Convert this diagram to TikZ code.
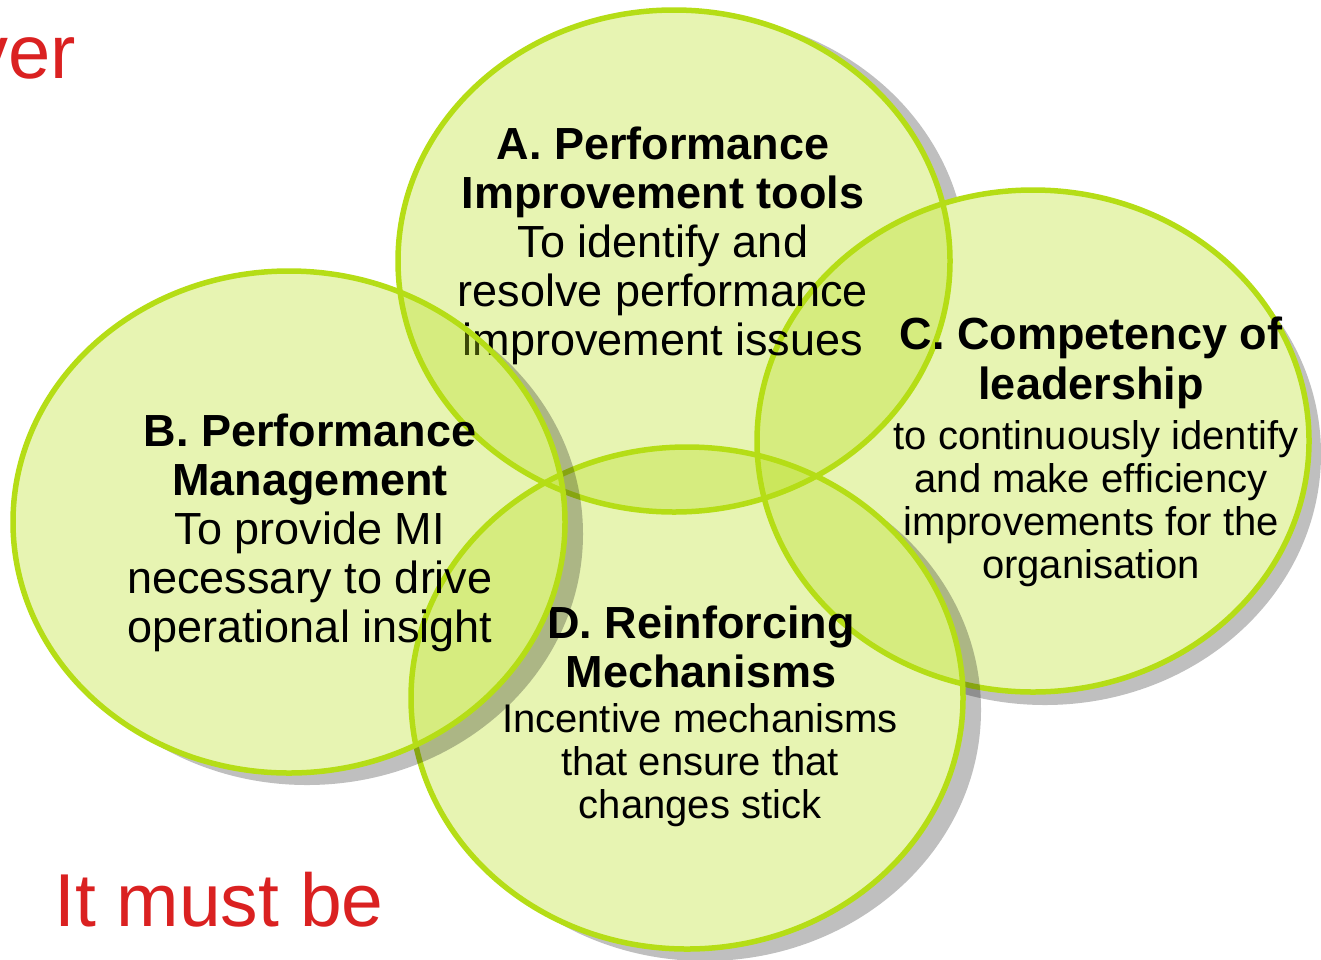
\documentclass[tikz,border=0pt]{standalone}
\usepackage{fontspec}
\setmainfont{Liberation Sans}
\definecolor{lime}{RGB}{181,221,22}
\definecolor{slogan}{RGB}{218,33,33}
% radii shared by all four ellipses
\newcommand\erx{276}
\newcommand\ery{251}
% clip away the inside of an ellipse centred at (#1,#2)
\newcommand\cutellipse[2]{%
  \clip (-80,-80) -- (1420,-80) -- (1420,1060) -- (-80,1060) -- cycle
        ({#1+\erx},#2) arc[start angle=0,end angle=-360,x radius=\erx,y radius=\ery] -- cycle;}
\tikzset{
  shade/.style={fill=black, fill opacity=0.25},
  bubble/.style={fill=lime, fill opacity=0.33},
  rim/.style={draw=lime, line width=5.5pt},
  ttl/.style={anchor=base, inner sep=0pt, font=\fontsize{45}{49}\selectfont\bfseries},
  txt/.style={anchor=base, inner sep=0pt, font=\fontsize{45}{49}\selectfont},
  small/.style={anchor=base, inner sep=0pt, font=\fontsize{40}{43}\selectfont},
  red/.style={anchor=base west, inner sep=0pt, text=slogan, font=\fontsize{76}{80}\selectfont}
}
\begin{document}
\begin{tikzpicture}[x=1pt,y=-1pt]
\useasboundingbox (0,0) rectangle (1321,959);

% red slide text
\node[red] (head) at (-30,78) {ver};
\node[red, anchor=base] (headtail) at (615,-15.5) {g};
\node[red, font=\fontsize{75}{80}\selectfont] (foot) at (54,926) {It must be};

% ---------- A ----------
\begin{scope}
  \cutellipse{674}{261}\cutellipse{1033}{441}\cutellipse{687}{698}\cutellipse{289}{522}
  \path[shade] (674+17,261+4) ellipse [x radius=\erx, y radius=\ery];
\end{scope}
\path[bubble] (674,261) ellipse [x radius=\erx, y radius=\ery];
\path[rim] (674,261) ellipse [x radius=\erx, y radius=\ery];

% ---------- C ----------
\begin{scope}
  \cutellipse{1033}{441}\cutellipse{687}{698}\cutellipse{289}{522}
  \path[shade] (1033+12,441+13) ellipse [x radius=\erx, y radius=\ery];
\end{scope}
\path[bubble] (1033,441) ellipse [x radius=\erx, y radius=\ery];
\path[rim] (1033,441) ellipse [x radius=\erx, y radius=\ery];

% texts of A and C
\node[ttl] (a1) at (663,159) {A. Performance};
\node[ttl] (a2) at (663,208) {Improvement tools};
\node[txt] (a3) at (663,257) {To identify and};
\node[txt] (a4) at (663,306) {resolve performance};
\node[txt] (a5) at (663,355) {improvement issues};

\node[ttl] (c1) at (1091,349) {C. Competency of};
\node[ttl] (c2) at (1091,399) {leadership};
\node[small] (c3) at (1096,449) {to continuously identify};
\node[small] (c4) at (1091,492) {and make efficiency};
\node[small] (c5) at (1091,535) {improvements for the};
\node[small] (c6) at (1091,578) {organisation};

% ---------- D ----------
\begin{scope}
  \cutellipse{687}{698}\cutellipse{289}{522}
  \path[shade] (687+18,698+12) ellipse [x radius=\erx, y radius=\ery];
\end{scope}
\path[bubble] (687,698) ellipse [x radius=\erx, y radius=\ery];
\path[rim] (687,698) ellipse [x radius=\erx, y radius=\ery];
\node[ttl] (d1) at (701,638) {D. Reinforcing};
\node[ttl] (d2) at (701,687) {Mechanisms};
\node[small] (d3) at (700,732) {Incentive mechanisms};
\node[small] (d4) at (700,775) {that ensure that};
\node[small] (d5) at (700,818) {changes stick};

% ---------- B ----------
\begin{scope}
  \cutellipse{289}{522}
  \path[shade] (289+18,522+12) ellipse [x radius=\erx, y radius=\ery];
\end{scope}
\path[bubble] (289,522) ellipse [x radius=\erx, y radius=\ery];
\path[rim] (289,522) ellipse [x radius=\erx, y radius=\ery];
\node[ttl] (b1) at (310,446) {B. Performance};
\node[ttl] (b2) at (310,495) {Management};
\node[txt] (b3) at (310,544) {To provide MI};
\node[txt] (b4) at (310,593) {necessary to drive};
\node[txt] (b5) at (310,642) {operational insight};
\end{tikzpicture}
\end{document}
